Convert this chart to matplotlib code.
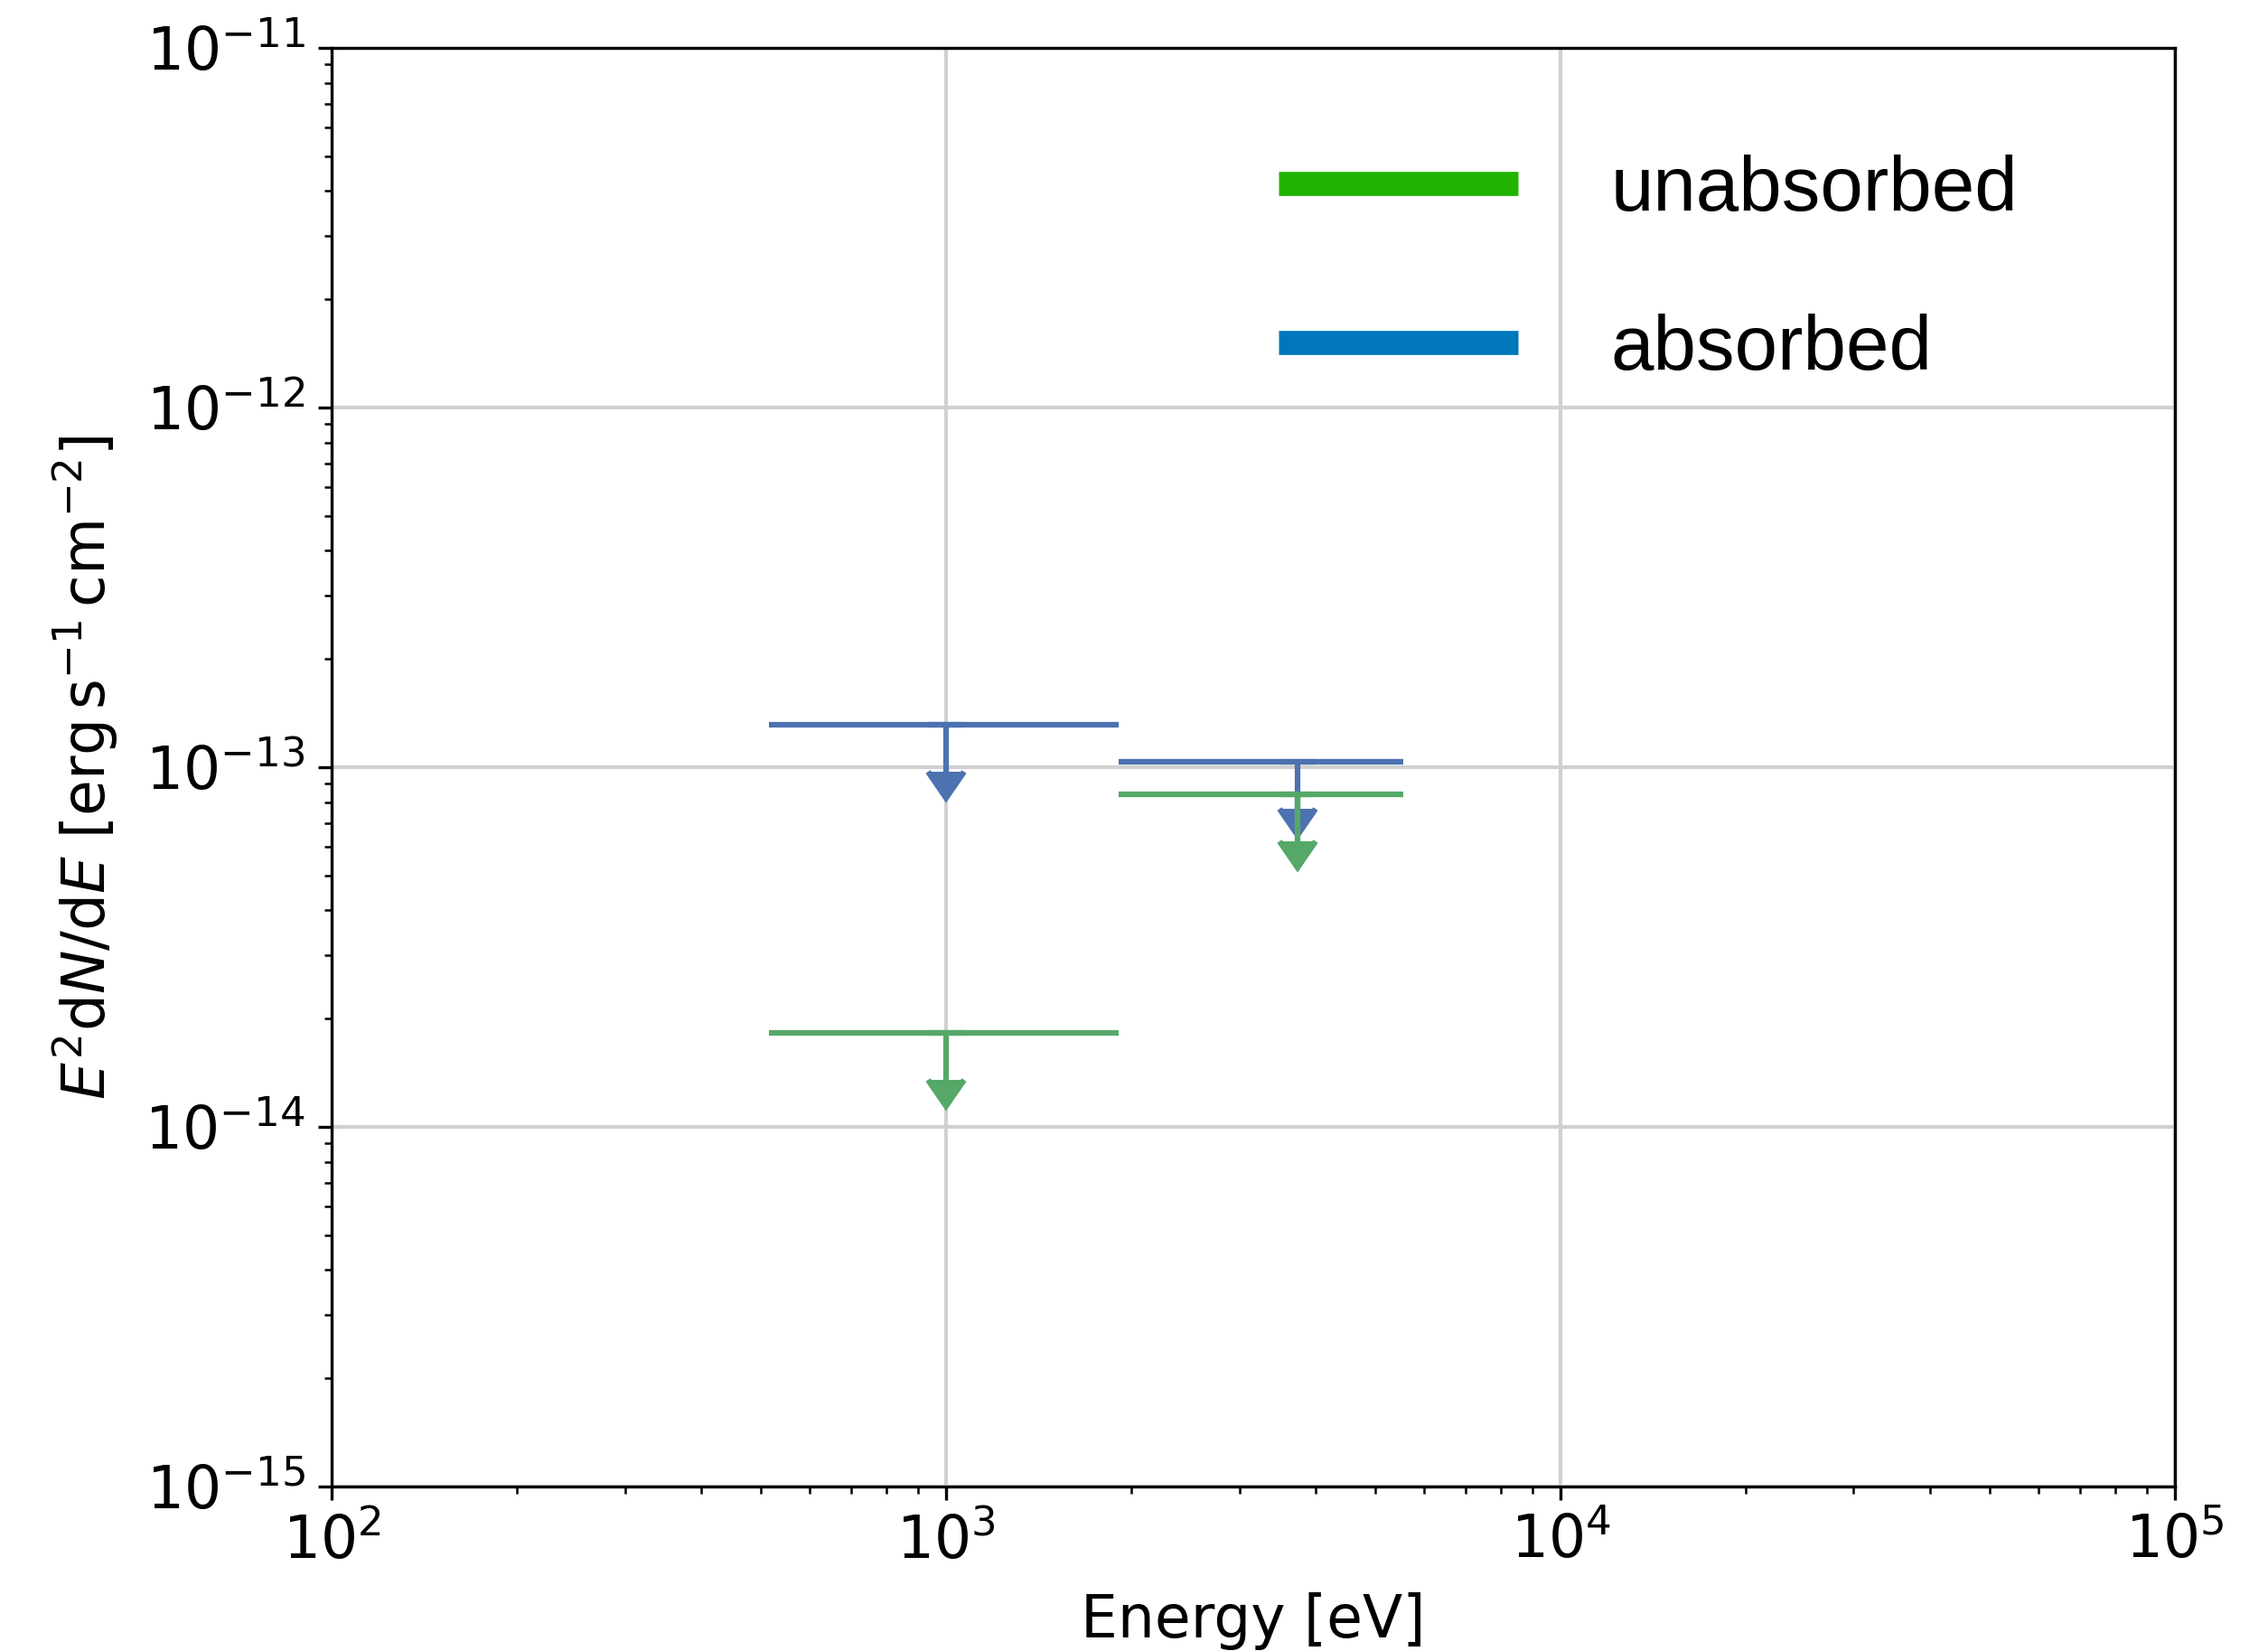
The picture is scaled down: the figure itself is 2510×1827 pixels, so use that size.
#!/usr/bin/env python3
"""
Upper limits on the X-ray SED, absorbed vs unabsorbed.
"""

import numpy as np
import matplotlib
matplotlib.use("Agg")
import matplotlib.pyplot as plt
from matplotlib.lines import Line2D

# bin centres and edges [eV]
energy = [1000.0, 3730.0]
e_lo = [515.0, 1910.0]
e_hi = [1910.0, 5540.0]

# flux upper limits [erg s^-1 cm^-2]
absorbed = [1.31e-13, 1.035e-13]
unabsorbed = [1.83e-14, 8.4e-14]

ARROW_FRAC = 0.26  # arrow length as fraction of the limit

C_ABS = "#4C72B0"
C_UNABS = "#55A868"

energy = np.array(energy)
xerr = [energy - np.array(e_lo), np.array(e_hi) - energy]

fig = plt.figure(figsize=(2511 / 300, 1827 / 300), dpi=300)
ax = fig.add_axes([0.1462, 0.0996, 0.8124, 0.8714])

for flux, col in [(absorbed, C_ABS), (unabsorbed, C_UNABS)]:
    flux = np.array(flux)
    # horizontal bin widths, no caps
    ax.errorbar(energy, flux, xerr=xerr, fmt="none", color=col, ecolor=col,
                elinewidth=1.5, capsize=0)
    # downward arrows for the upper limits
    ax.errorbar(energy, flux, yerr=ARROW_FRAC * flux, uplims=True, fmt="none",
                color=col, ecolor=col, elinewidth=1.5, capsize=4.7, capthick=1.5)

ax.set_xscale("log")
ax.set_yscale("log")
ax.set_xlim(1e2, 1e5)
ax.set_ylim(1e-15, 1e-11)
ax.grid(True, which="major", color="#d0d0d0", lw=1.0)
ax.set_axisbelow(True)
ax.tick_params(labelsize=15.5)

ax.set_xlabel("Energy [eV]", fontsize=15.5, labelpad=5.5)
ax.set_ylabel(r"$E^2\mathrm{d}N/\mathrm{d}E$ [$\mathrm{erg\,s^{-1}\,cm^{-2}}$]",
              fontsize=15.5, labelpad=6.5)

handles = [Line2D([], [], color="#1FB300", lw=6.4, solid_capstyle="butt"),
           Line2D([], [], color="#0077BB", lw=6.4, solid_capstyle="butt")]
ax.legend(handles, ["unabsorbed", "absorbed"], loc="center left",
          bbox_to_anchor=(0.5137, 0.8455), frameon=False, borderpad=0, borderaxespad=0,
          handlelength=3.1, handletextpad=1.2, labelspacing=1.12,
          prop={"family": "Liberation Sans", "size": 20.5})

fig.savefig("out.png", dpi=300)
print("Saved: out.png")
